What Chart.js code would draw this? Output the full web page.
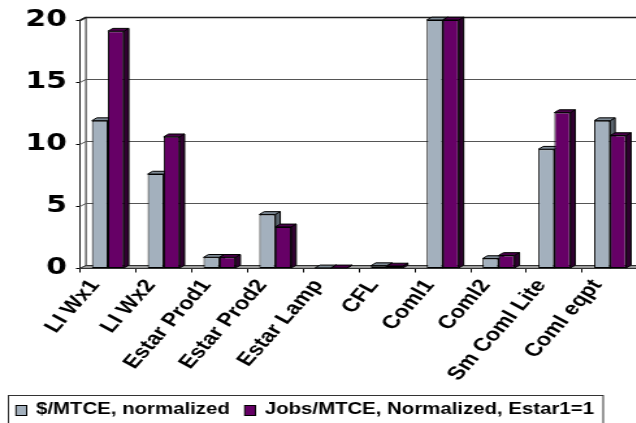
<!DOCTYPE html>
<html>
<head>
<meta charset="utf-8">
<script src="https://cdn.jsdelivr.net/npm/chart.js@4/dist/chart.umd.min.js"></script>
<style>
  html, body { margin: 0; padding: 0; background: #fff; overflow: hidden; width: 636px; height: 423px; }
  /* the chart is laid out narrow and widened, giving the broad lettering of the original slide */
  #wrap { position: absolute; left: 0; top: 0; width: 492px; height: 423px; transform: scaleX(1.3); transform-origin: 0 0; }
  #c { display: block; width: 492px; height: 423px; }
</style>
</head>
<body>
<div id="wrap"><canvas id="c" width="492" height="423"></canvas></div>
<script>
const categories = ['LI Wx1', 'LI Wx2', 'Estar Prod1', 'Estar Prod2', 'Estar Lamp', 'CFL', 'Coml1', 'Coml2', 'Sm Coml Lite', 'Coml eqpt'];
const costPerMtce = [11.9, 7.6, 0.9, 4.35, 0.05, 0.23, 20, 0.8, 9.6, 11.9];
const jobsPerMtce = [19.1, 10.6, 0.9, 3.35, 0.05, 0.2, 20, 1.05, 12.55, 10.7];
const yTicks = [0, 5, 10, 15, 20];
const seriesNames = ['$/MTCE, normalized', 'Jobs/MTCE, Normalized, Estar1=1'];

// face shades for the extruded bars: front, top, side
const shades = [
  { front: '#a3b0bd', top: '#7e8a95', side: '#5a646d' },
  { front: '#660066', top: '#4a004a', side: '#300030' }
];
const WALL_DX = 4.6, WALL_DY = 3;   // depth of floor / side wall
const BAR_DX = 3.8, BAR_DY = 2.8;   // depth of each bar

function poly(ctx, pts, fill, stroke) {
  ctx.beginPath();
  ctx.moveTo(pts[0][0], pts[0][1]);
  for (let i = 1; i < pts.length; i++) ctx.lineTo(pts[i][0], pts[i][1]);
  ctx.closePath();
  if (fill) { ctx.fillStyle = fill; ctx.fill(); }
  if (stroke) { ctx.strokeStyle = stroke; ctx.lineWidth = 1; ctx.stroke(); }
}

const depthPlugin = {
  id: 'depth',
  beforeDatasetsDraw(chart) {
    const { ctx, chartArea: a, scales: { y } } = chart;
    ctx.save();
    const right = chart.width + 20;
    // side wall, then back wall grid lines
    poly(ctx, [[a.left, a.bottom], [a.left, a.top], [a.left + WALL_DX, a.top - WALL_DY], [a.left + WALL_DX, a.bottom - WALL_DY]], '#fff', '#222');
    yTicks.forEach(v => {
      if (v === 0) return;
      const py = Math.round(y.getPixelForValue(v)) + 0.5;
      ctx.beginPath();
      ctx.moveTo(a.left, py);
      ctx.lineTo(a.left + WALL_DX, py - WALL_DY);
      ctx.lineTo(right, py - WALL_DY);
      ctx.strokeStyle = v === 20 ? '#202020' : '#555';
      ctx.lineWidth = v === 20 ? 1.5 : 1;
      ctx.stroke();
    });
    // floor
    poly(ctx, [[a.left, a.bottom], [a.left + WALL_DX, a.bottom - WALL_DY], [right, a.bottom - WALL_DY], [right, a.bottom]], '#9a9a9a', '#333');
    // top and side faces of every bar
    chart.data.datasets.forEach((ds, i) => {
      const meta = chart.getDatasetMeta(i);
      const sh = shades[i];
      meta.data.forEach(bar => {
        const p = bar.getProps(['x', 'y', 'base', 'width'], true);
        const l = p.x - p.width / 2, r = p.x + p.width / 2;
        poly(ctx, [[r, p.y], [r + BAR_DX, p.y - BAR_DY], [r + BAR_DX, p.base - BAR_DY], [r, p.base]], sh.side, '#000');
        poly(ctx, [[l, p.y], [l + BAR_DX, p.y - BAR_DY], [r + BAR_DX, p.y - BAR_DY], [r, p.y]], sh.top, '#000');
      });
    });
    ctx.restore();
  }
};

const legendPlugin = {
  id: 'boxedLegend',
  afterDraw(chart) {
    const { ctx } = chart;
    ctx.save();
    ctx.strokeStyle = '#333';
    ctx.lineWidth = 1;
    ctx.strokeRect(6.5, 395.5, 457.5, 40);
    ctx.font = 'bold 15.7px "Liberation Sans", Arial, sans-serif';
    ctx.textBaseline = 'alphabetic';
    let x = 12.3;
    chart.data.datasets.forEach((ds, i) => {
      ctx.fillStyle = ds.backgroundColor;
      ctx.fillRect(x, 405.5, 8.2, 10);
      ctx.strokeStyle = '#000';
      ctx.strokeRect(x, 405.5, 8.2, 10);
      ctx.fillStyle = '#000';
      ctx.fillText(ds.label, x + 15.4, 414.3);
      x += 15.4 + ctx.measureText(ds.label).width + 11.5;
    });
    ctx.restore();
  }
};

new Chart(document.getElementById('c'), {
  type: 'bar',
  data: {
    labels: categories,
    datasets: [
      { label: seriesNames[0], data: costPerMtce, backgroundColor: shades[0].front, borderColor: '#000', borderWidth: 1, borderSkipped: false },
      { label: seriesNames[1], data: jobsPerMtce, backgroundColor: shades[1].front, borderColor: '#000', borderWidth: 1, borderSkipped: false }
    ]
  },
  options: {
    responsive: false,
    devicePixelRatio: 1,
    animation: false,
    layout: { padding: { left: 0, right: 1.2, top: 20, bottom: 0 } },
    datasets: { bar: { categoryPercentage: 0.573, barPercentage: 1 } },
    plugins: { legend: { display: false }, tooltip: { enabled: false } },
    scales: {
      x: {
        grid: { drawOnChartArea: false, offset: true, tickLength: 4, color: '#000' },
        border: { display: true, color: '#000' },
        ticks: {
          autoSkip: false, minRotation: 55, maxRotation: 55, color: '#000', labelOffset: -10, padding: 3,
          font: { family: '"Liberation Sans", Arial, sans-serif', weight: 'bold', size: 18.5 }
        },
        afterFit(s) { s.height = 154.5; s.paddingLeft = 0; s.paddingRight = 0; }
      },
      y: {
        min: 0, max: 20,
        grid: { drawOnChartArea: false, tickLength: 3, color: '#000' },
        border: { display: true, color: '#000' },
        ticks: {
          stepSize: 5, color: '#000', padding: 7,
          font: { family: '"DejaVu Sans", Verdana, sans-serif', weight: 'bold', size: 23 },
          callback: v => yTicks.includes(v) ? String(v) : ''
        },
        afterFit(s) { s.width = 61.5; s.paddingTop = 0; s.paddingBottom = 0; }
      }
    }
  },
  plugins: [depthPlugin, legendPlugin]
});
</script>
</body>
</html>
